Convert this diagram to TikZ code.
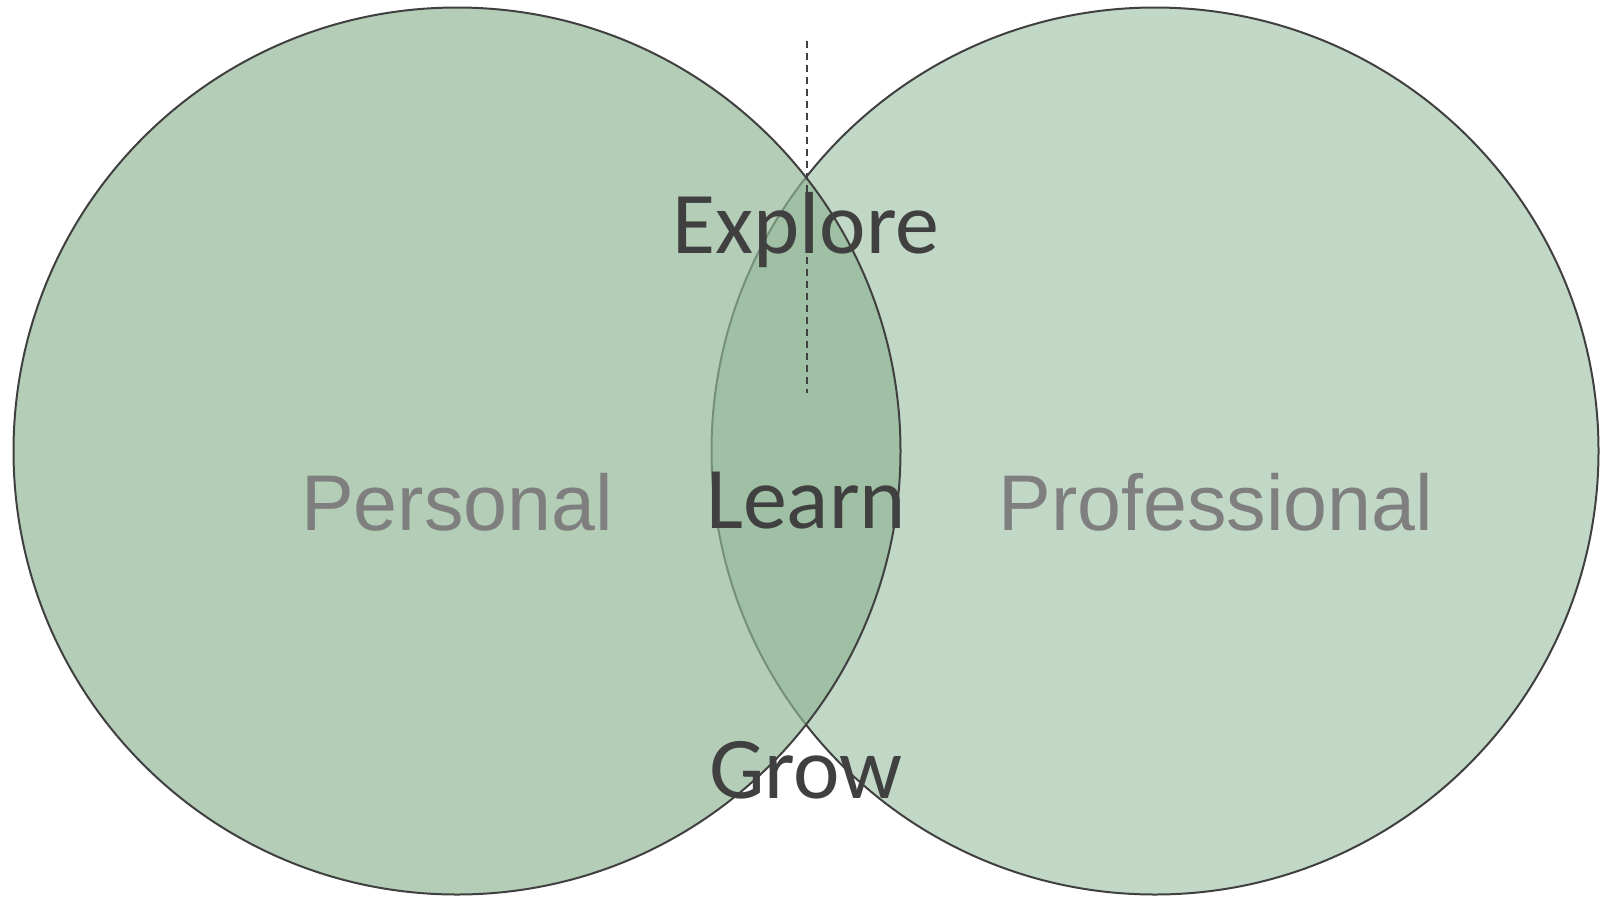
\documentclass[tikz,border=0pt]{standalone}
\usepackage{fontspec}
\usepackage{xcolor}
\usetikzlibrary{positioning}
\newfontfamily\calfont{Carlito}
\newfontfamily\arialfont{Liberation Sans}
\definecolor{leftgreen}{HTML}{8FB594}
\definecolor{rightgreen}{HTML}{C2D8C7}
\definecolor{darkgrey}{HTML}{404040}
\definecolor{midgrey}{HTML}{7F7F7F}

\begin{document}
\begin{tikzpicture}[x=1pt,y=-1pt]
\useasboundingbox (0,0) rectangle (1600,898);
%\draw[help lines] (0,0) grid (1600,898);
\draw [darkgrey, line width=2pt, fill=rightgreen] (1155,451) circle (443.5);
\draw [darkgrey, line width=2pt, fill=leftgreen, fill opacity=.68] (457,451) circle (443.5);

\coordinate (dashtop) at (807,41);
\coordinate (dashbottom) at (807,393);
\draw [darkgrey, line width=1.6pt, dash pattern=on 7pt off 5pt] (dashtop) -- (dashbottom);

\node [anchor=base, darkgrey, inner sep=0] (explore) at (806,253) {\calfont\fontsize{88}{92}\selectfont Explore};
\node [anchor=base, darkgrey, inner sep=0] (learn) at (806,528) {\calfont\fontsize{88}{92}\selectfont Learn};
\node [anchor=base, darkgrey, inner sep=0] (grow) at (806,798) {\calfont\fontsize{88}{92}\selectfont Grow};
\node [anchor=base, midgrey, inner sep=0] (personal) at (457,530) {\arialfont\fontsize{79}{83}\selectfont Personal};
\node [anchor=base, midgrey, inner sep=0] (professional) at (1216,530) {\arialfont\fontsize{79}{83}\selectfont Professional};

\end{tikzpicture}
\end{document}
